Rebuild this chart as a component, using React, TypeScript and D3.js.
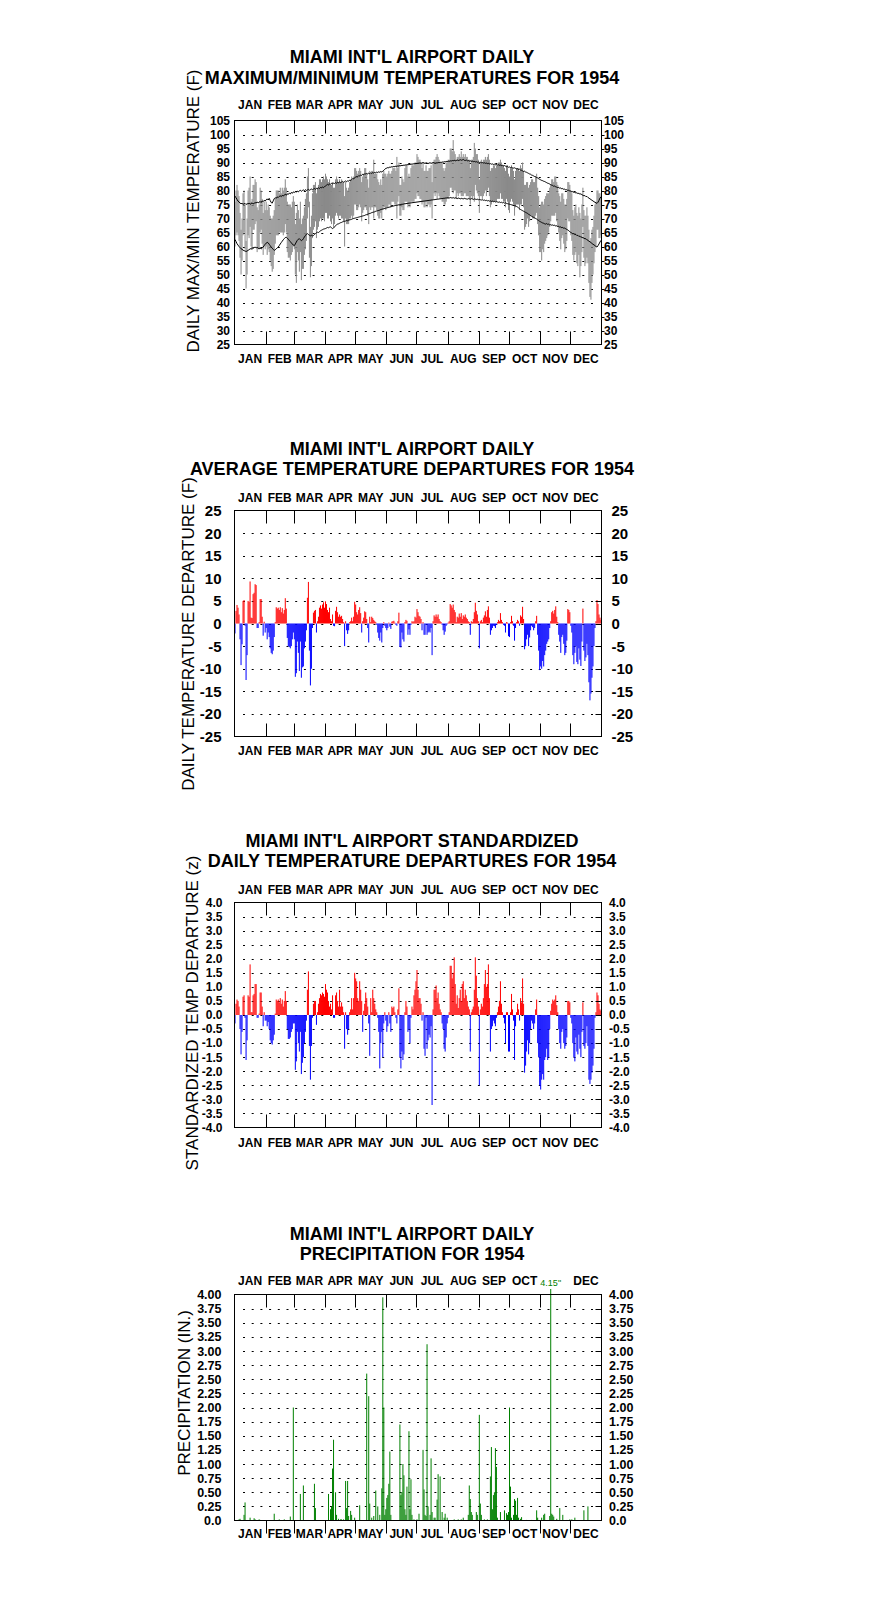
import React from "react";
import * as d3 from "d3";

// ---------------- DATA ----------------
const MONTHS = ["JAN", "FEB", "MAR", "APR", "MAY", "JUN", "JUL", "AUG", "SEP", "OCT", "NOV", "DEC"];
const MONTH_DAYS = [31, 28, 31, 30, 31, 30, 31, 31, 30, 31, 30, 31];

// Daily maximum temperature (F), one sub-array per month
const TMAX = [
  [76, 80, 82, 80, 78, 72, 66, 70, 79, 80, 75, 62, 70, 80, 81, 85, 76, 77, 82, 82, 84, 83, 74, 73, 75, 81, 80, 77, 72, 76, 73],
  [76, 73, 75, 74, 71, 70, 70, 71, 73, 77, 80, 80, 80, 79, 81, 79, 81, 80, 81, 84, 81, 76, 75, 75, 75, 74, 76, 78],
  [76, 68, 72, 75, 73, 70, 76, 68, 70, 71, 74, 77, 79, 85, 88, 76, 67, 71, 79, 82, 82, 83, 79, 81, 82, 84, 84, 83, 84, 85, 84],
  [86, 85, 84, 83, 84, 82, 82, 83, 81, 81, 84, 85, 84, 83, 84, 83, 84, 83, 83, 78, 83, 81, 80, 81, 83, 84, 85, 84, 85, 88],
  [88, 87, 86, 87, 88, 87, 83, 85, 86, 88, 88, 86, 84, 81, 87, 86, 87, 87, 91, 86, 86, 86, 84, 83, 82, 84, 82, 86, 87, 86, 86],
  [85, 86, 87, 86, 86, 87, 88, 88, 88, 87, 92, 88, 90, 82, 82, 85, 84, 83, 88, 89, 89, 85, 86, 85, 88, 89, 89, 89, 90, 90],
  [93, 92, 91, 91, 90, 88, 90, 87, 87, 89, 87, 87, 88, 88, 89, 83, 90, 91, 91, 92, 93, 92, 91, 90, 90, 90, 88, 87, 88, 90, 90],
  [91, 91, 95, 95, 94, 98, 94, 93, 91, 92, 92, 93, 92, 94, 92, 93, 92, 93, 92, 92, 91, 91, 88, 91, 91, 92, 97, 95, 93, 93, 91],
  [84, 90, 91, 90, 91, 91, 92, 91, 92, 93, 91, 87, 88, 88, 89, 89, 88, 89, 89, 90, 90, 91, 90, 89, 89, 88, 87, 89, 89, 86],
  [85, 88, 89, 88, 87, 84, 87, 88, 88, 88, 87, 89, 88, 90, 87, 82, 82, 83, 83, 81, 82, 83, 84, 84, 83, 83, 85, 86, 81, 78, 74],
  [75, 76, 76, 75, 77, 78, 79, 79, 79, 81, 82, 84, 84, 83, 85, 85, 83, 82, 79, 78, 76, 79, 79, 77, 75, 75, 77, 83, 83, 82],
  [80, 79, 73, 71, 74, 75, 72, 71, 74, 72, 70, 75, 81, 73, 71, 71, 74, 71, 66, 62, 63, 66, 67, 71, 75, 76, 80, 80, 79, 79, 78],
];

// Daily minimum temperature (F)
const TMIN = [
  [60, 64, 65, 64, 62, 56, 50, 55, 64, 65, 59, 45, 50, 64, 63, 67, 60, 59, 66, 66, 68, 69, 58, 59, 59, 65, 66, 61, 57, 60, 59],
  [60, 57, 59, 58, 55, 53, 51, 52, 57, 61, 64, 64, 64, 65, 65, 65, 65, 64, 65, 68, 65, 58, 56, 56, 55, 57, 58, 60],
  [59, 50, 47, 58, 55, 51, 58, 48, 52, 52, 57, 59, 62, 70, 74, 56, 49, 53, 63, 66, 67, 69, 63, 66, 67, 69, 70, 69, 70, 70, 69],
  [72, 72, 70, 70, 71, 69, 68, 70, 67, 68, 71, 72, 71, 70, 71, 71, 70, 70, 69, 60, 70, 68, 68, 68, 70, 70, 71, 70, 71, 75],
  [75, 73, 73, 74, 75, 74, 69, 72, 73, 74, 74, 73, 71, 68, 74, 73, 74, 74, 70, 74, 74, 73, 71, 70, 70, 72, 70, 73, 74, 74, 73],
  [74, 74, 75, 75, 74, 76, 76, 76, 75, 75, 70, 76, 78, 71, 71, 74, 73, 73, 76, 76, 76, 74, 75, 74, 76, 76, 76, 76, 77, 77],
  [79, 78, 78, 77, 77, 75, 76, 74, 74, 76, 74, 75, 75, 74, 75, 70, 77, 79, 78, 79, 77, 79, 78, 77, 77, 76, 76, 75, 75, 76, 77],
  [77, 78, 81, 81, 80, 79, 80, 80, 77, 79, 78, 79, 79, 78, 78, 78, 79, 79, 78, 78, 78, 77, 75, 78, 77, 78, 76, 82, 80, 79, 78],
  [72, 78, 78, 77, 78, 79, 80, 78, 80, 81, 78, 74, 75, 76, 76, 76, 76, 76, 77, 77, 77, 79, 77, 77, 76, 76, 74, 77, 76, 73],
  [72, 76, 77, 76, 75, 71, 74, 75, 75, 75, 73, 75, 75, 77, 74, 66, 67, 68, 70, 67, 69, 71, 71, 70, 70, 70, 71, 72, 68, 64, 58],
  [58, 55, 59, 58, 61, 62, 63, 64, 65, 67, 69, 71, 71, 71, 71, 72, 69, 67, 65, 62, 59, 63, 64, 61, 58, 59, 62, 70, 69, 69],
  [64, 62, 57, 55, 57, 58, 54, 53, 57, 49, 53, 58, 67, 56, 53, 54, 56, 54, 47, 42, 41, 47, 50, 54, 58, 60, 66, 66, 63, 63, 64],
];

// Normal daily maximum (F)
const NORMAL_MAX = [
  [78.0, 77.4, 76.8, 76.2, 75.9, 75.5, 75.3, 75.4, 75.1, 75.2, 75.4, 75.0, 75.3, 75.2, 75.5, 75.1, 75.3, 75.6, 75.2, 75.4, 75.7, 75.5, 75.9, 75.6, 75.8, 76.1, 75.7, 76.3, 76.0, 76.5, 76.2],
  [76.7, 77.0, 76.6, 77.2, 76.4, 75.7, 75.5, 76.3, 77.1, 77.4, 77.2, 77.7, 77.5, 77.9, 78.1, 77.8, 78.3, 78.0, 78.4, 78.7, 78.3, 78.8, 78.6, 79.1, 78.8, 79.3, 79.0, 79.5],
  [79.3, 79.6, 79.4, 79.8, 79.5, 79.9, 80.1, 79.7, 80.0, 80.2, 79.9, 80.3, 80.0, 80.2, 80.4, 80.1, 80.3, 80.6, 80.2, 80.5, 80.7, 80.4, 80.8, 80.6, 81.0, 80.7, 81.1, 80.9, 81.3, 81.0, 81.4],
  [81.6, 81.9, 82.2, 81.9, 82.4, 82.2, 82.6, 82.3, 82.7, 82.5, 82.8, 82.6, 82.9, 82.7, 83.1, 82.8, 83.0, 83.3, 82.9, 83.2, 83.4, 83.1, 83.5, 83.3, 83.7, 83.5, 83.9, 84.3, 84.1, 84.6],
  [84.8, 85.0, 84.9, 85.3, 85.2, 85.5, 85.4, 85.8, 85.6, 86.0, 85.9, 86.1, 85.9, 86.2, 86.0, 86.3, 86.1, 86.4, 86.2, 86.5, 86.3, 86.6, 86.4, 86.7, 86.5, 86.8, 86.6, 86.9, 87.2, 87.6, 87.9],
  [88.0, 88.2, 88.1, 88.4, 88.3, 88.5, 88.4, 88.6, 88.5, 88.7, 88.6, 88.8, 88.7, 88.9, 88.8, 89.0, 88.9, 89.1, 89.0, 89.2, 89.1, 89.3, 89.2, 89.4, 89.3, 89.5, 89.4, 89.6, 89.5, 89.7],
  [89.6, 89.8, 89.7, 89.9, 89.7, 89.8, 90.0, 89.8, 89.7, 89.9, 89.8, 89.6, 89.8, 89.9, 89.7, 89.8, 90.0, 89.9, 89.7, 89.9, 89.8, 90.0, 89.9, 90.1, 90.0, 90.2, 90.1, 90.3, 90.2, 90.4, 90.3],
  [90.5, 90.4, 90.6, 90.5, 90.7, 90.6, 90.8, 90.6, 90.7, 90.9, 90.7, 90.8, 91.0, 90.8, 90.9, 91.1, 90.8, 90.7, 90.9, 90.6, 90.7, 90.5, 90.6, 90.4, 90.5, 90.3, 90.4, 90.2, 90.3, 90.1, 90.2],
  [90.0, 90.1, 89.9, 90.0, 89.8, 89.9, 89.7, 89.8, 89.6, 89.7, 89.5, 89.6, 89.4, 89.5, 89.3, 89.4, 89.2, 89.3, 89.1, 89.2, 89.0, 89.1, 88.9, 89.0, 88.8, 88.9, 88.7, 88.5, 88.6, 88.3],
  [88.4, 88.2, 88.3, 88.1, 88.0, 88.1, 87.9, 87.7, 87.8, 87.5, 87.6, 87.3, 87.2, 87.0, 86.8, 86.9, 86.6, 86.5, 86.3, 86.1, 85.9, 85.8, 85.5, 85.4, 85.2, 85.0, 84.9, 84.6, 84.5, 84.2, 84.0],
  [83.8, 83.6, 83.5, 83.3, 83.2, 83.0, 82.8, 82.6, 82.5, 82.3, 82.1, 81.9, 81.8, 81.5, 81.6, 81.3, 81.2, 81.0, 81.1, 80.8, 80.9, 80.6, 80.7, 80.4, 80.5, 80.2, 80.3, 80.0, 80.1, 79.8],
  [79.8, 79.5, 79.6, 79.3, 79.4, 79.1, 79.2, 78.9, 79.0, 78.7, 78.8, 78.5, 78.3, 78.1, 78.2, 77.8, 77.9, 77.5, 77.3, 77.0, 76.8, 76.5, 76.3, 76.0, 75.8, 75.6, 75.4, 75.8, 76.5, 77.3, 77.7],
];

// Normal daily minimum (F)
const NORMAL_MIN = [
  [62.5, 61.8, 61.0, 60.5, 60.0, 59.6, 59.2, 59.0, 58.7, 58.5, 58.4, 58.2, 58.4, 58.6, 58.9, 59.1, 59.3, 59.0, 59.4, 59.6, 59.8, 59.5, 59.7, 59.4, 59.2, 59.5, 59.1, 59.4, 59.8, 60.3, 60.8],
  [61.2, 61.5, 61.3, 60.8, 60.3, 59.8, 59.4, 59.0, 58.6, 58.8, 59.2, 59.5, 59.8, 60.3, 60.9, 61.4, 61.9, 62.4, 62.8, 63.2, 63.3, 63.0, 62.6, 62.1, 61.8, 61.3, 60.9, 60.5],
  [60.3, 60.9, 61.6, 62.2, 62.6, 62.8, 62.4, 62.1, 62.3, 62.8, 63.4, 63.9, 64.4, 64.6, 64.3, 64.0, 63.8, 64.0, 63.8, 63.9, 64.3, 64.6, 64.9, 65.1, 65.0, 65.3, 65.6, 65.8, 66.0, 66.2, 66.3],
  [66.4, 66.6, 66.8, 66.7, 66.9, 67.0, 66.7, 66.4, 66.6, 67.0, 67.4, 67.8, 68.0, 68.1, 68.3, 68.5, 68.6, 68.8, 68.9, 69.0, 69.1, 69.3, 69.2, 69.4, 69.5, 69.6, 69.7, 69.9, 70.0, 70.1],
  [70.2, 70.3, 70.4, 70.5, 70.6, 70.7, 70.8, 70.9, 71.0, 71.1, 71.3, 71.4, 71.5, 71.7, 71.8, 71.9, 72.1, 72.2, 72.3, 72.4, 72.6, 72.7, 72.8, 72.9, 73.0, 73.2, 73.3, 73.4, 73.5, 73.6, 73.7],
  [73.8, 73.9, 74.0, 74.1, 74.2, 74.3, 74.4, 74.5, 74.6, 74.7, 74.7, 74.8, 74.9, 74.9, 75.0, 75.1, 75.1, 75.2, 75.3, 75.3, 75.4, 75.4, 75.5, 75.5, 75.6, 75.6, 75.7, 75.7, 75.8, 75.8],
  [75.9, 75.9, 76.0, 76.0, 76.1, 76.1, 76.2, 76.2, 76.3, 76.3, 76.4, 76.4, 76.5, 76.5, 76.6, 76.6, 76.7, 76.7, 76.8, 76.8, 76.9, 76.9, 77.0, 77.0, 77.1, 77.1, 77.2, 77.2, 77.3, 77.3, 77.4],
  [77.4, 77.3, 77.5, 77.4, 77.3, 77.5, 77.2, 77.4, 77.3, 77.1, 77.3, 77.2, 77.0, 77.2, 77.1, 77.0, 77.2, 77.1, 77.0, 76.9, 77.1, 77.0, 76.9, 77.1, 77.0, 76.8, 77.0, 76.9, 76.8, 76.9, 76.7],
  [76.8, 76.7, 76.6, 76.7, 76.5, 76.6, 76.4, 76.5, 76.3, 76.4, 76.2, 76.3, 76.1, 76.2, 76.0, 76.1, 75.9, 76.0, 75.9, 75.8, 75.9, 75.7, 75.8, 75.6, 75.7, 75.5, 75.6, 75.4, 75.3, 75.2],
  [75.1, 75.0, 74.9, 74.8, 74.7, 74.6, 74.5, 74.3, 74.1, 73.8, 73.5, 73.2, 73.0, 72.8, 72.6, 72.4, 72.2, 72.0, 71.8, 71.5, 71.3, 71.0, 70.8, 70.6, 70.4, 70.2, 70.0, 69.8, 69.5, 69.3, 69.0],
  [68.8, 68.6, 68.4, 68.3, 68.1, 68.0, 68.2, 67.9, 68.0, 67.7, 67.8, 67.6, 67.7, 67.5, 67.6, 67.3, 67.4, 67.1, 67.2, 66.9, 67.0, 66.7, 66.8, 66.5, 66.6, 66.3, 66.1, 65.9, 65.6, 65.3],
  [65.0, 64.8, 64.5, 64.6, 64.2, 64.3, 63.9, 64.0, 63.6, 63.7, 63.3, 63.4, 63.0, 63.1, 62.7, 62.8, 62.4, 62.2, 61.9, 61.7, 61.4, 61.1, 60.8, 60.6, 60.3, 60.0, 59.8, 60.3, 60.9, 61.6, 62.2],
];

// Daily average temperature departure (F)
const DEPARTURE = [
  [-2.2, 2.8, 4.1, 3.5, 2.0, -3.5, -9.2, -4.6, 5.0, 5.2, -0.5, -12.5, -7.0, 5.0, 4.8, 9.3, 1.3, 1.2, 6.5, 6.8, 8.7, 8.5, -1.0, -1.0, 0.3, 5.4, 5.4, 1.5, -2.7, 0.4, -2.0],
  [-1.0, -3.5, -2.0, -3.0, -5.5, -6.5, -6.8, -6.0, -3.0, 0.3, 3.6, 3.3, 3.5, 3.0, 3.6, 2.5, 3.4, 2.2, 3.0, 5.6, 3.3, -3.2, -5.0, -5.2, -5.5, -5.0, -3.5, -2.0],
  [-3.5, -11.8, -11.0, -4.0, -6.5, -10.5, -4.0, -12.0, -9.7, -9.5, -5.5, -4.0, -1.5, 5.7, 9.2, -6.0, -13.7, -10.0, -1.0, 2.4, 2.8, 3.0, -2.0, 0.5, 1.5, 3.5, 4.0, 3.3, 4.2, 4.7, 3.5],
  [4.9, 4.3, 3.0, 2.5, 3.5, 1.0, 0.5, 2.0, -0.5, -0.6, 2.8, 3.7, 2.5, 1.5, 2.0, 1.5, 1.7, 1.0, 0.3, -5.0, 0.5, -1.5, -2.3, -1.5, 0.3, 0.5, 1.3, 0.5, 1.5, 4.8],
  [4.2, 2.5, 2.0, 3.0, 3.6, 2.3, -2.0, 0.5, 1.3, 2.7, 2.5, 1.0, -1.0, -4.2, 1.5, 0.3, 1.5, 1.2, 0.8, 0.5, 0.3, -0.3, -2.0, -3.2, -3.8, -2.0, -4.2, -1.0, 0.3, -0.5, -1.0],
  [-1.5, -1.0, 0.2, -0.7, -1.2, 0.4, 0.5, 0.6, 0.2, -0.3, -0.5, 0.5, 2.4, -5.2, -5.3, -2.0, -3.5, -4.0, 0.3, 0.8, 0.6, -2.5, -1.3, -2.5, -0.3, 0.5, 0.4, 0.5, 1.5, 1.3],
  [3.2, 2.5, 1.7, 1.5, 1.0, -1.5, 0.3, -2.5, -2.5, -0.3, -2.5, -2.0, -1.8, -2.0, -1.0, -7.0, 0.5, 1.8, 1.5, 2.0, 1.5, 2.0, 1.0, 0.5, 0.3, -0.3, -1.5, -2.5, -1.8, -0.5, -0.2],
  [0.2, 0.5, 4.3, 4.0, 3.5, 4.2, 3.0, 2.5, 0.3, 1.5, 1.3, 2.2, 1.5, 2.3, 1.0, 1.8, 1.5, 2.0, 1.3, 1.0, 0.5, 0.3, -2.5, 0.5, 0.3, 1.0, 2.5, 4.6, 2.8, 2.0, 0.5],
  [-5.5, 0.5, 0.8, 0.3, 1.3, 1.8, 2.7, 1.5, 3.0, 3.8, 1.3, -2.5, -1.5, -1.0, -0.5, -0.6, -1.0, -0.3, 0.3, 0.8, 0.5, 2.3, 0.8, 0.3, -0.3, -0.5, -2.0, 0.3, 0.2, -2.8],
  [-3.0, 0.3, 1.7, 0.5, -0.5, -3.8, -1.0, 0.3, 0.8, 0.5, -0.5, 1.8, 1.5, 3.7, 1.0, -5.7, -5.0, -3.5, -2.5, -5.0, -3.1, -1.5, -0.5, -0.8, -1.5, -1.0, 0.5, 1.7, -2.5, -6.0, -10.3],
  [-9.5, -10.0, -8.3, -9.5, -7.0, -6.0, -4.5, -4.0, -3.5, -1.0, 0.5, 2.5, 2.8, 2.2, 3.0, 3.8, 1.5, 0.3, -2.5, -4.0, -6.5, -3.0, -2.5, -4.5, -7.0, -6.5, -3.8, 3.2, 3.0, 2.5],
  [-0.5, -2.0, -7.0, -9.0, -6.5, -5.0, -8.5, -9.0, -5.5, -8.0, -9.4, -4.0, 3.3, -6.0, -8.3, -7.5, -4.5, -7.0, -13.0, -17.0, -15.5, -12.0, -9.5, -5.0, -1.0, 0.5, 5.2, 4.3, 2.0, 1.3, 0.8],
];

// Standardized daily temperature departure (z)
const STD_DEPARTURE = [
  [-0.3, 0.4, 0.55, 0.5, 0.3, -0.5, -1.4, -0.6, 0.65, 0.7, -0.1, -1.6, -0.9, 0.7, 0.65, 1.8, 0.1, 0.1, 0.7, 0.75, 1.1, 1.1, -0.1, -0.1, 0.05, 0.8, 0.8, 0.3, -0.4, 0.1, -0.2],
  [-0.2, -0.4, -0.25, -0.5, -0.9, -1.0, -1.05, -0.9, -0.7, 0.05, 0.55, 0.5, 0.55, 0.45, 0.6, 0.4, 0.55, 0.3, 0.5, 0.85, 0.5, -0.5, -0.85, -0.85, -0.8, -0.6, -0.5, -0.3],
  [-0.3, -1.95, -1.65, -0.6, -1.0, -1.3, -0.6, -2.1, -1.7, -1.5, -1.0, -0.6, -0.2, 0.9, 1.55, -1.1, -2.3, -1.1, -0.1, 0.4, 0.5, 0.5, -0.35, 0.1, 0.4, 0.6, 0.75, 0.7, 0.8, 0.75, 0.65],
  [1.1, 0.9, 0.8, 0.5, 0.3, 0.4, 0.2, 0.7, -0.1, -0.1, 0.7, 0.8, 0.5, 0.3, 0.9, 0.3, 0.45, 0.3, 0.1, -1.2, 0.1, -0.5, -0.7, -0.5, 0.1, 0.2, 0.6, 0.2, 0.6, 1.5],
  [1.3, 1.2, 0.6, 0.5, 1.2, 0.9, 0.5, -0.6, 0.15, 0.4, 0.8, 0.6, 0.3, -0.3, -1.45, 0.6, 0.1, 0.9, 0.6, 0.4, 0.2, 0.1, -0.1, -0.6, -1.9, -1.0, -0.6, -1.5, -0.3, 0.1, -0.2],
  [-0.6, -0.4, 0.1, -0.3, -0.6, 0.3, 0.25, 0.3, 0.1, -0.1, -0.3, 0.2, 0.95, -1.5, -1.9, -1.3, -1.6, -1.4, 0.1, 0.5, 0.3, -0.6, -0.5, -1.0, -0.1, 0.3, 0.2, 0.7, 0.9, 1.2],
  [1.6, 0.9, 0.6, 0.6, 0.4, -0.2, 0.1, -1.2, -1.45, -0.1, -1.2, -0.9, -0.7, -0.8, -0.4, -3.2, 0.2, 0.9, 0.9, 1.05, 0.6, 0.8, 0.4, 0.2, 0.1, -0.3, -0.5, -1.2, -1.3, -0.8, -0.3],
  [-0.1, 0.1, 1.75, 1.75, 1.3, 1.5, 2.05, 1.1, 0.4, 0.7, 0.25, 0.6, 0.9, 0.5, 1.1, 1.2, 0.6, 0.9, 0.7, 0.5, 0.3, 0.2, -1.3, 0.1, 0.2, 0.3, 0.9, 2.05, 1.4, 0.6, 0.3],
  [-2.5, 0.2, 0.4, 0.3, 0.6, 1.1, 1.6, 1.0, 1.1, 1.8, 0.6, -1.3, -0.5, -0.4, -0.2, -0.3, -0.4, -0.1, 0.1, 0.3, 0.5, 1.2, 0.4, 0.1, -0.1, -0.3, -1.0, 0.1, 0.1, -1.3],
  [-1.3, 0.1, 0.75, 0.2, -0.2, -1.6, -0.4, 0.1, 0.4, 0.2, -0.2, 0.6, 0.45, 1.3, 0.4, -2.05, -1.8, -1.3, -0.9, -1.4, -1.0, -0.5, -0.2, -0.3, -0.5, -0.3, 0.2, 0.55, -1.0, -1.5, -2.5],
  [-2.65, -2.3, -2.1, -2.3, -1.6, -1.5, -1.2, -1.6, -1.5, -0.5, 0.15, 0.4, 0.55, 0.5, 0.55, 0.7, 0.35, 0.1, -0.5, -1.0, -1.2, -0.6, -0.5, -1.0, -1.2, -1.1, -0.8, 0.5, 0.5, 0.45],
  [-0.1, -0.3, -1.0, -1.5, -1.65, -0.8, -1.3, -1.4, -0.7, -1.2, -1.5, -0.6, 0.45, -1.1, -1.2, -1.0, -0.4, -1.1, -2.3, -2.45, -2.3, -2.05, -1.8, -1.2, -0.1, 0.1, 0.8, 0.7, 0.4, 0.2, 0.15],
];

// Daily precipitation (inches): day of year (0 = Jan 1) and amount, days with rain only
const PRCP_DOY = [
  4, 5, 9, 10, 15, 19, 20, 24, 25,
  39, 44, 49, 55, 58,
  65, 68, 79, 80,
  93, 95, 96, 97, 98, 100, 101, 103, 105, 106, 108, 110, 111, 112, 113, 115, 116, 119,
  124, 131, 133, 134, 136, 138, 140, 142, 144, 146, 147, 148, 149, 150,
  151, 152, 153, 154, 155, 164, 165, 166, 167, 168, 169, 170, 171, 173, 174, 175, 176, 178,
  181, 183, 187, 188, 189, 190, 191, 192, 194, 195, 196, 198, 199, 201, 202, 204, 206, 208, 209, 211,
  218, 222, 225, 227, 232, 233, 234, 235, 236, 240, 241,
  243, 244, 245, 248, 251, 254, 255, 256, 257, 258, 259, 260, 261, 264, 268, 270, 271, 272,
  273, 274, 275, 277, 278, 279, 280, 281, 282, 284, 285, 290, 295, 300, 301,
  305, 307, 308, 313, 314, 315, 316, 317, 320, 323, 326, 330, 333,
  335, 338, 347, 351,
];
const PRCP_IN = [
  0.02, 0.03, 0.10, 0.32, 0.05, 0.04, 0.02, 0.02, 0.01,
  0.12, 0.02, 0.02, 0.07, 2.00,
  0.47, 0.62, 0.65, 0.22,
  0.47, 0.20, 0.25, 0.92, 1.43, 0.50, 0.10, 0.03, 0.02, 0.02, 0.02, 0.70, 0.22, 0.70, 0.08, 0.17, 0.10, 0.05,
  0.27, 2.60, 2.20, 0.30, 0.05, 0.08, 0.53, 0.25, 0.10, 0.57, 3.95, 2.00, 0.10, 0.20,
  0.40, 0.45, 0.65, 1.22, 0.10, 1.70, 0.45, 0.50, 1.00, 0.80, 0.20, 0.10, 0.60, 1.58, 0.20, 0.73, 0.10, 0.02,
  0.02, 0.12, 1.25, 0.55, 0.10, 0.08, 3.12, 0.25, 0.10, 1.10, 0.15, 0.05, 0.05, 0.37, 0.82, 0.78, 0.15, 0.05, 0.12, 0.05,
  0.02, 0.02, 0.02, 0.05, 0.10, 0.62, 0.38, 0.15, 0.10, 0.15, 0.10,
  1.87, 0.30, 0.10, 0.02, 0.02, 0.78, 1.30, 0.20, 0.45, 0.50, 1.28, 0.95, 0.05, 0.15, 0.18, 0.13, 0.10, 0.15,
  2.00, 0.60, 0.05, 0.10, 0.38, 0.35, 0.10, 0.40, 0.05, 0.03, 0.06, 0.01, 0.01, 0.18, 0.05,
  0.05, 0.10, 0.12, 0.08, 4.15, 0.12, 0.10, 0.07, 0.03, 0.22, 0.10, 0.01, 0.02,
  0.02, 0.05, 0.18, 0.25,
];

// Axis tick values
const TEMP_TICKS = d3.range(25, 106, 5);
const DEP_TICKS = d3.range(-25, 26, 5);
const Z_TICKS = d3.range(-8, 9).map((v) => v / 2);
const PRCP_TICKS = d3.range(0, 17).map((v) => v / 4);

// ---------------- LAYOUT ----------------
const FONT = "'Liberation Sans', Arial, Helvetica, sans-serif";
const X0 = 234.5;
const X1 = 601.5;
const TITLE_X = 412;
const monthStart = [0, ...Array.from(d3.cumsum(MONTH_DAYS))];
const xScale = d3.scaleLinear().domain([0, 365]).range([X0, X1]);

type PanelProps = {
  top: number;
  bottom: number;
  y: d3.ScaleLinear<number, number>;
  ticks: number[];
  fmt: (v: number) => string;
  labelSize: number;
  labelWeight: string;
  leftLabelX: number;
  rightLabelX: number;
  rightTickOut: boolean;
  title: string[];
  titleY: number[];
  monthTopY: number;
  monthBotY: number;
  yTitle: string;
  yTitleX: number;
  yTitleY: number;
  bottomTicksOut?: boolean;
  hideTopMonth?: number;
  children?: React.ReactNode;
};

function Panel(p: PanelProps) {
  const rows = p.ticks.slice(1, -1);
  const monthCenters = MONTHS.map((_, i) => xScale(monthStart[i] + MONTH_DAYS[i] / 2));
  const tickXs = monthStart.slice(1, 12).map((d) => Math.round(xScale(d)) + 0.5);
  return (
    <g fontFamily={FONT}>
      {p.title.map((t, i) => (
        <text key={t} x={TITLE_X} y={p.titleY[i]} textAnchor="middle" fontSize={18} fontWeight="bold">
          {t}
        </text>
      ))}
      <text
        transform={`translate(${p.yTitleX},${p.yTitleY}) rotate(-90)`}
        textAnchor="middle"
        fontSize={17}
      >
        {p.yTitle}
      </text>
      {rows.map((t) => (
        <line
          key={"r" + t}
          x1={243}
          x2={594}
          y1={Math.round(p.y(t)) + 0.5}
          y2={Math.round(p.y(t)) + 0.5}
          stroke="#000"
          strokeWidth={1}
          strokeDasharray="2 6.7"
        />
      ))}
      {p.children}
      <rect x={X0} y={p.top} width={X1 - X0} height={p.bottom - p.top} fill="none" stroke="#000" strokeWidth={1} />
      {tickXs.map((x) => (
        <g key={"t" + x}>
          <line x1={x} x2={x} y1={p.top} y2={p.top + 13} stroke="#000" />
          {p.bottomTicksOut ? (
            <line x1={x} x2={x} y1={p.bottom} y2={p.bottom + 13} stroke="#000" />
          ) : (
            <line x1={x} x2={x} y1={p.bottom - 13} y2={p.bottom} stroke="#000" />
          )}
        </g>
      ))}
      {rows.map((t) => {
        const yy = Math.round(p.y(t)) + 0.5;
        return p.rightTickOut ? (
          <line key={"rt" + t} x1={X1} x2={X1 + 3} y1={yy} y2={yy} stroke="#000" />
        ) : (
          <line key={"rt" + t} x1={X1 - 6} x2={X1} y1={yy} y2={yy} stroke="#000" />
        );
      })}
      {p.ticks.map((t) => (
        <g key={"l" + t} fontSize={p.labelSize} fontWeight={p.labelWeight}>
          <text x={p.leftLabelX} y={p.y(t)} dy="0.36em" textAnchor="end">
            {p.fmt(t)}
          </text>
          <text x={p.rightLabelX} y={p.y(t)} dy="0.36em" textAnchor="start">
            {p.fmt(t)}
          </text>
        </g>
      ))}
      {MONTHS.map((m, i) => (
        <g key={m} fontSize={12} fontWeight="bold">
          {p.hideTopMonth === i ? null : (
            <text x={monthCenters[i]} y={p.monthTopY} textAnchor="middle">
              {m}
            </text>
          )}
          <text x={monthCenters[i]} y={p.monthBotY} textAnchor="middle">
            {m}
          </text>
        </g>
      ))}
    </g>
  );
}

function dailyBars(values: number[], y: d3.ScaleLinear<number, number>, pos: string, neg: string) {
  const y0 = y(0);
  return values.map((v, d) => {
    const x = xScale(d);
    const w = xScale(d + 1) - x;
    const yv = y(v);
    return (
      <rect
        key={d}
        x={x}
        width={w}
        y={Math.min(yv, y0)}
        height={Math.abs(yv - y0)}
        fill={v >= 0 ? pos : neg}
      />
    );
  });
}

export default function App() {
  const tmax = TMAX.flat();
  const tmin = TMIN.flat();
  const nmax = NORMAL_MAX.flat();
  const nmin = NORMAL_MIN.flat();
  const dep = DEPARTURE.flat();
  const z = STD_DEPARTURE.flat();

  // Panel 1
  const y1 = d3.scaleLinear().domain([25, 105]).range([344.5, 120.5]);
  const normLine = d3
    .line<number>()
    .x((_, i) => xScale(i + 0.5))
    .y((v) => y1(v));

  // Panel 2
  const y2 = d3.scaleLinear().domain([-25, 25]).range([736.5, 510.5]);
  // Panel 3
  const y3 = d3.scaleLinear().domain([-4, 4]).range([1127.5, 902.5]);
  // Panel 4
  const y4 = d3.scaleLinear().domain([0, 4]).range([1520.5, 1294.5]);
  const prcpMaxIdx = d3.maxIndex(PRCP_IN);

  return (
    <svg
      width={876}
      height={1606}
      viewBox="0 0 876 1606"
      style={{ position: "absolute", left: 0, top: 0, background: "#fff" }}
    >
      <rect x={0} y={0} width={876} height={1606} fill="#fff" />

      <Panel
        top={120.5}
        bottom={344.5}
        y={y1}
        ticks={TEMP_TICKS}
        fmt={(v) => String(v)}
        labelSize={12}
        labelWeight="bold"
        leftLabelX={230}
        rightLabelX={604}
        rightTickOut={true}
        title={["MIAMI INT'L AIRPORT DAILY", "MAXIMUM/MINIMUM TEMPERATURES FOR 1954"]}
        titleY={[63, 83.5]}
        monthTopY={109}
        monthBotY={363}
        yTitle="DAILY MAX/MIN TEMPERATURE (F)"
        yTitleX={199}
        yTitleY={211}
      >
        {tmax.map((v, d) => {
          const x = xScale(d);
          return (
            <rect
              key={d}
              x={x}
              width={xScale(d + 1) - x}
              y={y1(v)}
              height={y1(tmin[d]) - y1(v)}
              fill="#8a8a8a"
            />
          );
        })}
        <path d={normLine(nmax) ?? ""} fill="none" stroke="#000" strokeWidth={1} />
        <path d={normLine(nmin) ?? ""} fill="none" stroke="#000" strokeWidth={1} />
      </Panel>

      <Panel
        top={510.5}
        bottom={736.5}
        y={y2}
        ticks={DEP_TICKS}
        fmt={(v) => String(v)}
        labelSize={15}
        labelWeight="bold"
        leftLabelX={221.5}
        rightLabelX={611.5}
        rightTickOut={false}
        title={["MIAMI INT'L AIRPORT DAILY", "AVERAGE TEMPERATURE DEPARTURES FOR 1954"]}
        titleY={[455, 475]}
        monthTopY={501.5}
        monthBotY={755}
        yTitle="DAILY TEMPERATURE DEPARTURE (F)"
        yTitleX={194}
        yTitleY={634}
      >
        {dailyBars(dep, y2, "#ff0000", "#0000ff")}
      </Panel>

      <Panel
        top={902.5}
        bottom={1127.5}
        y={y3}
        ticks={Z_TICKS}
        fmt={(v) => v.toFixed(1)}
        labelSize={12}
        labelWeight="bold"
        leftLabelX={222.5}
        rightLabelX={609}
        rightTickOut={false}
        title={["MIAMI INT'L AIRPORT STANDARDIZED", "DAILY TEMPERATURE DEPARTURES FOR 1954"]}
        titleY={[847, 867]}
        monthTopY={894}
        monthBotY={1147}
        yTitle="STANDARDIZED TEMP DEPARTURE (z)"
        yTitleX={198}
        yTitleY={1013}
      >
        {dailyBars(z, y3, "#ff0000", "#0000ff")}
      </Panel>

      <Panel
        top={1294.5}
        bottom={1520.5}
        y={y4}
        ticks={PRCP_TICKS}
        fmt={(v) => (v === 0 ? "0.0" : v.toFixed(2))}
        labelSize={12.5}
        labelWeight="bold"
        leftLabelX={221.5}
        rightLabelX={609}
        rightTickOut={false}
        title={["MIAMI INT'L AIRPORT DAILY", "PRECIPITATION FOR 1954"]}
        titleY={[1239.5, 1259.5]}
        monthTopY={1285}
        monthBotY={1538}
        yTitle="PRECIPITATION (IN.)"
        yTitleX={190}
        yTitleY={1393}
        bottomTicksOut={true}
        hideTopMonth={10}
      >
        {PRCP_DOY.map((d, i) => {
          const v = PRCP_IN[i];
          const top = v > 4 ? 1289 : y4(v);
          const x = xScale(d);
          return <rect key={d} x={x} width={1} y={top} height={y4(0) - top} fill="#008000" />;
        })}
        <text
          x={xScale(PRCP_DOY[prcpMaxIdx]) + 0.5}
          y={1286}
          textAnchor="middle"
          fontSize={9}
          fill="#008000"
          fontFamily={FONT}
        >
          {PRCP_IN[prcpMaxIdx].toFixed(2) + '"'}
        </text>
      </Panel>
    </svg>
  );
}
